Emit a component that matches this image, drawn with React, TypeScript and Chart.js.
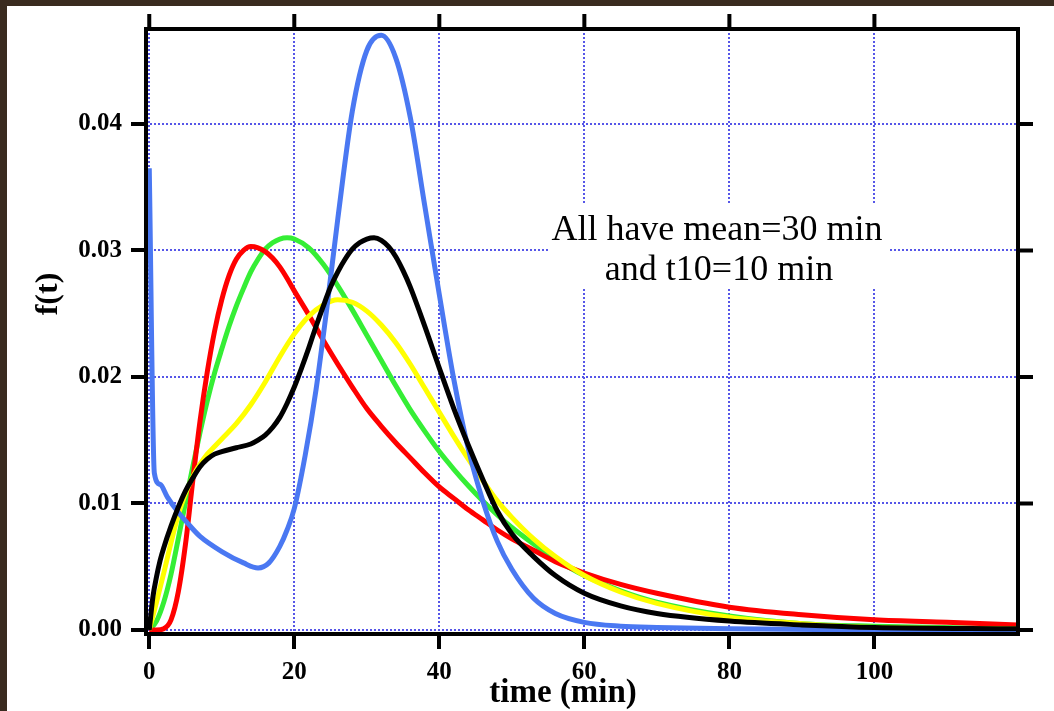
import React, { useEffect, useRef } from 'react';
import { Chart, registerables } from 'chart.js';

Chart.register(...registerables);

// ---- data ----
const tBlue = [0, 0.7, 1.5, 2.5, 4, 5.5, 7, 10, 13, 15, 16.5, 18, 19, 20, 21.5, 23, 24.5, 26, 28, 30, 32, 34, 36, 38, 40, 42, 44, 46, 48, 50, 53, 56, 60, 65, 70, 80, 100, 119.8];
const fBlue = [0.0365, 0.0124, 0.0115, 0.0105, 0.0093, 0.0083, 0.0074, 0.0062, 0.0053, 0.0049, 0.0053, 0.0066, 0.0079, 0.0096, 0.0138, 0.0190, 0.0255, 0.0325, 0.0410, 0.0458, 0.0470, 0.0452, 0.0405, 0.0335, 0.0265, 0.0198, 0.0143, 0.0102, 0.0070, 0.0048, 0.0025, 0.0013, 0.0006, 0.0003, 0.0002, 0.0001, 0, 0];

const tRed = [0, 1, 2, 3, 4, 5, 6, 7, 8, 9, 10, 11, 12, 13, 14, 15, 16, 17, 18, 19, 20, 22, 24, 26, 28, 30, 32, 34, 36, 38, 40, 42, 44, 46, 48, 50, 53, 56, 60, 65, 70, 80, 90, 100, 110, 119.8];
const fRed = [0, 0, 0.0001, 0.0008, 0.0030, 0.0068, 0.0118, 0.0165, 0.0204, 0.0236, 0.0261, 0.0280, 0.0293, 0.0300, 0.0303, 0.0302, 0.0299, 0.0294, 0.0287, 0.0278, 0.0268, 0.0249, 0.0229, 0.0210, 0.0192, 0.0175, 0.0161, 0.0148, 0.0136, 0.0124, 0.0113, 0.0104, 0.0095, 0.0087, 0.0079, 0.0072, 0.0063, 0.0054, 0.0045, 0.0036, 0.0029, 0.0018, 0.0012, 0.0008, 0.0006, 0.0004];

const tGreen = [0, 1, 2, 3, 4, 5, 6, 7, 8, 9, 10, 11, 12, 13, 14, 15, 16, 17, 18, 19, 20, 22, 24, 26, 28, 30, 32, 34, 36, 38, 40, 42, 44, 46, 48, 50, 53, 56, 60, 65, 70, 80, 90, 100, 119.8];
const fGreen = [0, 0.0007, 0.0022, 0.0044, 0.0072, 0.0101, 0.0129, 0.0156, 0.0181, 0.0203, 0.0222, 0.0240, 0.0256, 0.0270, 0.0283, 0.0293, 0.0301, 0.0306, 0.0309, 0.0310, 0.0309, 0.0302, 0.0289, 0.0272, 0.0253, 0.0233, 0.0213, 0.0193, 0.0174, 0.0157, 0.0141, 0.0127, 0.0114, 0.0102, 0.0091, 0.0081, 0.0068, 0.0056, 0.0043, 0.0031, 0.0022, 0.0011, 0.0005, 0.0003, 0.0001];

const tYellow = [0, 1, 2, 3, 4, 5, 6, 7, 8, 9, 10, 12, 14, 16, 18, 20, 22, 24, 26, 28, 30, 32, 34, 36, 38, 40, 42, 44, 46, 48, 50, 53, 56, 60, 65, 70, 80, 90, 100, 119.8];
const fYellow = [0, 0.0022, 0.0045, 0.0069, 0.0091, 0.0108, 0.0121, 0.0131, 0.0139, 0.0145, 0.0151, 0.0163, 0.0178, 0.0196, 0.0216, 0.0234, 0.0248, 0.0257, 0.0261, 0.0259, 0.0252, 0.0241, 0.0227, 0.0210, 0.0191, 0.0172, 0.0153, 0.0135, 0.0118, 0.0102, 0.0089, 0.0072, 0.0058, 0.0043, 0.0030, 0.0021, 0.0010, 0.0005, 0.0002, 0.0001];

const tBlack = [0, 0.5, 1, 1.5, 2, 3, 4, 5, 6, 7, 8, 9, 10, 12, 14, 15, 16, 17, 18, 19, 20, 21, 22, 23, 24, 25, 26, 27, 28, 29, 30, 31, 32, 33, 34, 35, 36, 38, 40, 42, 44, 46, 48, 50, 53, 56, 60, 65, 70, 80, 90, 100, 119.8];
const fBlack = [0, 0.0026, 0.0042, 0.0055, 0.0065, 0.0082, 0.0097, 0.0110, 0.0120, 0.0129, 0.0135, 0.0139, 0.0141, 0.0144, 0.0147, 0.0150, 0.0154, 0.0160, 0.0168, 0.0179, 0.0192, 0.0207, 0.0223, 0.0240, 0.0256, 0.0271, 0.0283, 0.0293, 0.0301, 0.0306, 0.0309, 0.0310, 0.0308, 0.0303, 0.0295, 0.0284, 0.0271, 0.0240, 0.0207, 0.0175, 0.0146, 0.0119, 0.0094, 0.0076, 0.0058, 0.0043, 0.0029, 0.0019, 0.0013, 0.0007, 0.0004, 0.0002, 0.0001];

const xTickValues = [0, 20, 40, 60, 80, 100];
const xTickLabels = ['0', '20', '40', '60', '80', '100'];
const yTickValues = [0, 0.01, 0.02, 0.03, 0.04];
const yTickLabels = ['0.00', '0.01', '0.02', '0.03', '0.04'];
const xTitle = 'time (min)';
const yTitle = 'f(t)';
const noteLines = ['All have mean=30 min', 'and t10=10 min'];

const X_MIN = -0.45;
const X_MAX = 119.8;
const Y_MIN = -0.00032;
const Y_MAX = 0.0475;

const SERIF = "'Liberation Serif', 'Times New Roman', serif";
const GRID = '#5656e8';

const pts = (t: number[], f: number[]) => t.map((x, i) => ({ x, y: f[i] }));

const framePlugin = {
  id: 'frame',
  beforeDraw(chart: any) {
    const { ctx, width, height } = chart;
    ctx.save();
    ctx.fillStyle = '#3a2b1f';
    ctx.fillRect(0, 0, width, height);
    ctx.fillStyle = '#ffffff';
    ctx.fillRect(7, 6, width - 7, height - 6);
    ctx.restore();
  },
  beforeDatasetsDraw(chart: any) {
    const { ctx } = chart;
    ctx.save();
    ctx.fillStyle = '#ffffff';
    ctx.fillRect(550, 205, 340, 82);
    ctx.restore();
  },
  afterDraw(chart: any) {
    const { ctx, chartArea: a, scales } = chart;
    const xs = scales.x;
    const ys = scales.y;
    ctx.save();
    ctx.strokeStyle = '#000';
    ctx.lineWidth = 4;
    ctx.lineCap = 'butt';
    ctx.strokeRect(a.left, a.top, a.right - a.left, a.bottom - a.top);
    // mirrored ticks on top and right
    ctx.beginPath();
    xTickValues.forEach((v) => {
      const px = xs.getPixelForValue(v);
      ctx.moveTo(px, a.top);
      ctx.lineTo(px, a.top - 15);
    });
    yTickValues.forEach((v) => {
      const py = ys.getPixelForValue(v);
      ctx.moveTo(a.right, py);
      ctx.lineTo(a.right + 15, py);
    });
    ctx.stroke();

    // axis titles
    ctx.fillStyle = '#000';
    ctx.font = `bold 33px ${SERIF}`;
    ctx.textAlign = 'center';
    ctx.textBaseline = 'alphabetic';
    ctx.fillText(xTitle, 563, 702);

    ctx.save();
    ctx.translate(57, 294);
    ctx.rotate(-Math.PI / 2);
    ctx.font = `bold 32px ${SERIF}`;
    ctx.textAlign = 'center';
    ctx.fillText(yTitle, 0, 0);
    ctx.restore();

    // annotation
    ctx.font = `36px ${SERIF}`;
    ctx.textAlign = 'center';
    ctx.fillText(noteLines[0], 717, 240);
    ctx.fillText(noteLines[1], 719, 280);
    ctx.restore();
  },
};

export default function App() {
  const ref = useRef<HTMLCanvasElement | null>(null);

  useEffect(() => {
    if (!ref.current) return;
    const ds = (label: string, t: number[], f: number[], color: string) => ({
      label,
      data: pts(t, f),
      borderColor: color,
      backgroundColor: color,
      borderWidth: 5,
      pointRadius: 0,
      fill: false,
      cubicInterpolationMode: 'monotone' as const,
    });
    const chart = new Chart(ref.current, {
      type: 'line',
      data: {
        datasets: [
          ds('black', tBlack, fBlack, '#000000'),
          ds('blue', tBlue, fBlue, '#4a78f2'),
          ds('yellow', tYellow, fYellow, '#ffff00'),
          ds('red', tRed, fRed, '#ff0000'),
          ds('green', tGreen, fGreen, '#35ee35'),
        ],
      },
      options: {
        animation: false,
        responsive: false,
        devicePixelRatio: 1,
        layout: { padding: { left: 0, top: 29, right: 36, bottom: 0 } },
        plugins: { legend: { display: false }, tooltip: { enabled: false } },
        scales: {
          x: {
            type: 'linear',
            min: X_MIN,
            max: X_MAX,
            afterBuildTicks: (s: any) => {
              s.ticks = xTickValues.map((v) => ({ value: v }));
            },
            afterFit: (s: any) => {
              s.height = 77;
            },
            ticks: {
              autoSkip: false,
              maxRotation: 0,
              padding: 9,
              color: '#000',
              font: { family: SERIF, size: 25, weight: 'bold' },
              callback: (v: any) => {
                const i = xTickValues.indexOf(Number(v));
                return i >= 0 ? xTickLabels[i] : '';
              },
            },
            grid: {
              color: GRID,
              lineWidth: 2,
              drawTicks: true,
              tickLength: 15,
              tickWidth: 4,
              tickColor: '#000',
              tickBorderDash: [],
            },
            border: { display: false, dash: [2, 2] },
          },
          y: {
            type: 'linear',
            min: Y_MIN,
            max: Y_MAX,
            afterBuildTicks: (s: any) => {
              s.ticks = yTickValues.map((v) => ({ value: v }));
            },
            afterFit: (s: any) => {
              s.width = 146;
            },
            ticks: {
              autoSkip: false,
              padding: 9,
              color: '#000',
              font: { family: SERIF, size: 25, weight: 'bold' },
              callback: (v: any) => {
                const i = yTickValues.findIndex((y) => Math.abs(y - Number(v)) < 1e-9);
                return i >= 0 ? yTickLabels[i] : '';
              },
            },
            grid: {
              color: GRID,
              lineWidth: 2,
              drawTicks: true,
              tickLength: 15,
              tickWidth: 4,
              tickColor: '#000',
              tickBorderDash: [],
            },
            border: { display: false, dash: [2, 2] },
          },
        },
      } as any,
      plugins: [framePlugin],
    });
    return () => chart.destroy();
  }, []);

  return (
    <div style={{ position: 'fixed', left: 0, top: 0, width: 1054, height: 711 }}>
      <canvas ref={ref} width={1054} height={711} style={{ display: 'block', width: 1054, height: 711 }} />
    </div>
  );
}
